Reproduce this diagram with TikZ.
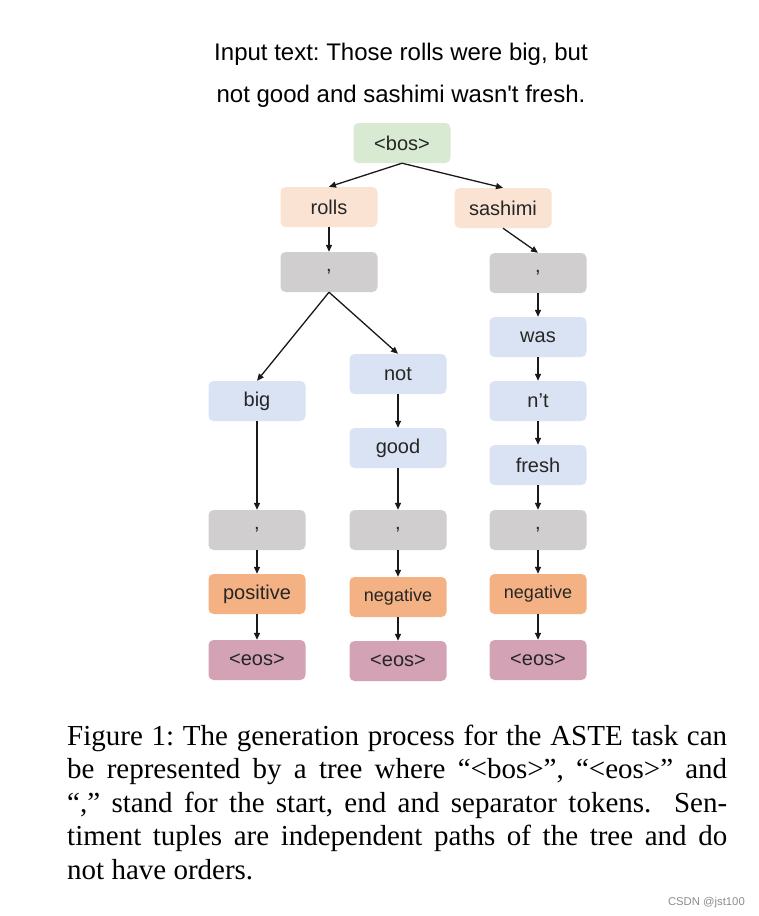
\documentclass[tikz,border=0pt]{standalone}
\usepackage{fontspec}
\setmainfont{Liberation Serif}
\setsansfont{Liberation Sans}
\newfontfamily\titlefont{Liberation Sans}[Ligatures=TeXOff]
\usepackage{xcolor}
\usetikzlibrary{arrows.meta}
\definecolor{bosgreen}{HTML}{D9EAD3}
\definecolor{aspeach}{HTML}{FBE3D4}
\definecolor{sepgray}{HTML}{D0CECF}
\definecolor{opblue}{HTML}{DAE3F3}
\definecolor{sentorange}{HTML}{F4B183}
\definecolor{eosmauve}{HTML}{D3A2B4}
\frenchspacing

\begin{document}
\begin{tikzpicture}[x=1pt,y=-1pt,
  tok/.style={rounded corners=5pt, minimum width=97pt, minimum height=40pt,
    inner sep=0pt, font=\sffamily\fontsize{20}{20}\selectfont, text=black!85},
  link/.style={black!90, line width=1.3pt, -{Triangle[length=7pt,width=6pt]}}]
\useasboundingbox (0,0) rectangle (759,916);
% input sentence
\node[anchor=base, font=\titlefont\fontsize{24}{24}\selectfont] (in1) at (401,60) {Input text: Those rolls were big, but};
\node[anchor=base, font=\titlefont\fontsize{24}{24}\selectfont] (in2) at (401,102) {not good and sashimi wasn't fresh.};
% tree
\node[tok, fill=bosgreen] (bos) at (402,143) {<bos>};
\node[tok, fill=aspeach] (rolls) at (329,207) {rolls};
\node[tok, fill=aspeach] (sashimi) at (503,208) {sashimi};
\node[tok, fill=sepgray] (sepa) at (329,272) {,};
\node[tok, fill=sepgray] (sepb) at (538,273) {,};
\node[tok, fill=opblue] (big) at (257,401) {big};
\node[tok, fill=opblue] (not) at (398,374) {not};
\node[tok, fill=opblue] (good) at (398,448) {good};
\node[tok, fill=opblue] (was) at (538,337) {was};
\node[tok, fill=opblue] (nt) at (538,401) {n’t};
\node[tok, fill=opblue] (fresh) at (538,465) {fresh};
\node[tok, fill=sepgray] (sepc) at (257,530) {,};
\node[tok, fill=sepgray] (sepd) at (398,530) {,};
\node[tok, fill=sepgray] (sepe) at (538,530) {,};
\node[tok, fill=sentorange] (pos) at (257,594) {positive};
\node[tok, fill=sentorange, font=\sffamily\fontsize{18}{18}\selectfont] (nega) at (398,597) {negative};
\node[tok, fill=sentorange, font=\sffamily\fontsize{18}{18}\selectfont] (negb) at (538,594) {negative};
\node[tok, fill=eosmauve] (eosa) at (257,660) {<eos>};
\node[tok, fill=eosmauve] (eosb) at (398,661) {<eos>};
\node[tok, fill=eosmauve] (eosc) at (538,660) {<eos>};
% connectors
\draw[link] (bos.south) -- (rolls.north);
\draw[link] (bos.south) -- (sashimi.north);
\draw[link] (rolls.south) -- (sepa.north);
\draw[link] (sashimi.south) -- (sepb.north);
\draw[link] (sepa.south) -- (big.north);
\draw[link] (sepa.south) -- (not.north);
\draw[link] (not.south) -- (good.north);
\draw[link] (sepb.south) -- (was.north);
\draw[link] (was.south) -- (nt.north);
\draw[link] (nt.south) -- (fresh.north);
\draw[link] (big.south) -- (sepc.north);
\draw[link] (good.south) -- (sepd.north);
\draw[link] (fresh.south) -- (sepe.north);
\draw[link] (sepc.south) -- (pos.north);
\draw[link] (sepd.south) -- (nega.north);
\draw[link] (sepe.south) -- (negb.north);
\draw[link] (pos.south) -- (eosa.north);
\draw[link] (nega.south) -- (eosb.north);
\draw[link] (negb.south) -- (eosc.north);
% caption
\node[anchor=base west, inner sep=0pt] (cap) at (67,745) {\parbox[t]{660pt}{\fontsize{29}{33.5}\selectfont
Figure 1: The generation process for the ASTE task can\linebreak be represented by a tree where “<bos>”, “<eos>” and\linebreak “,” stand for the start, end and separator tokens.\ \ Sen-\linebreak timent tuples are independent paths of the tree and do\linebreak not have orders.}};
\node[anchor=base east, inner sep=0pt, text=black!45, font=\sffamily\fontsize{11.3}{11.3}\selectfont] (mark) at (745,905) {CSDN @jst100};
\end{tikzpicture}
\end{document}
